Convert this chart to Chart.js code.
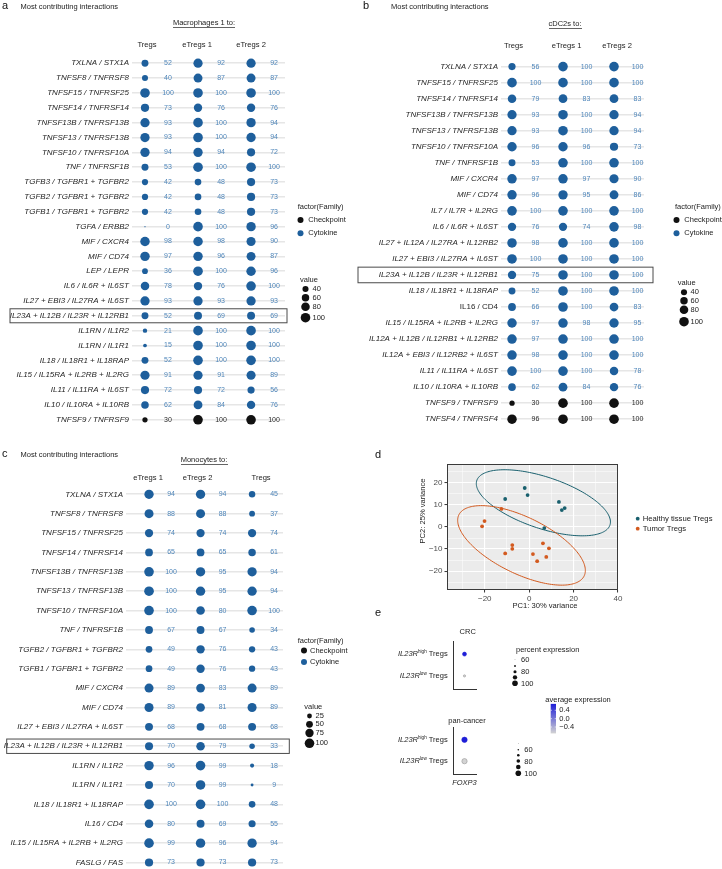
<!DOCTYPE html>
<html>
<head>
<meta charset="utf-8">
<title>Most contributing interactions</title>
<script src="https://cdn.jsdelivr.net/npm/chart.js@4.4.1/dist/chart.umd.min.js"></script>
<style>
  html, body { margin: 0; padding: 0; background: #fff; }
  body { position: relative; width: 722px; height: 869px; overflow: hidden; }
  canvas { position: absolute; }
</style>
</head>
<body>
<canvas id="chartA" width="361" height="435" style="left:0;top:0"></canvas>
<canvas id="chartB" width="370" height="435" style="left:352px;top:0"></canvas>
<canvas id="chartC" width="361" height="440" style="left:0;top:440px"></canvas>
<canvas id="chartD" width="361" height="175" style="left:361px;top:440px"></canvas>
<canvas id="chartE1" width="362" height="90" style="left:360px;top:605px"></canvas>
<canvas id="chartE2" width="362" height="100" style="left:360px;top:695px"></canvas>

<script>
// ---------- data ----------
const familyNames = ['Checkpoint', 'Cytokine'];
const highlightRow = 'IL23A + IL12B / IL23R + IL12RB1';
const panelTitle = 'Most contributing interactions';

// a: Macrophages 1 to
const macroRows = ['TXLNA / STX1A', 'TNFSF8 / TNFRSF8', 'TNFSF15 / TNFRSF25', 'TNFSF14 / TNFRSF14',
  'TNFSF13B / TNFRSF13B', 'TNFSF13 / TNFRSF13B', 'TNFSF10 / TNFRSF10A', 'TNF / TNFRSF1B',
  'TGFB3 / TGFBR1 + TGFBR2', 'TGFB2 / TGFBR1 + TGFBR2', 'TGFB1 / TGFBR1 + TGFBR2', 'TGFA / ERBB2',
  'MIF / CXCR4', 'MIF / CD74', 'LEP / LEPR', 'IL6 / IL6R + IL6ST', 'IL27 + EBI3 / IL27RA + IL6ST',
  'IL23A + IL12B / IL23R + IL12RB1', 'IL1RN / IL1R2', 'IL1RN / IL1R1', 'IL18 / IL18R1 + IL18RAP',
  'IL15 / IL15RA + IL2RB + IL2RG', 'IL11 / IL11RA + IL6ST', 'IL10 / IL10RA + IL10RB', 'TNFSF9 / TNFRSF9'];
const macroCols = ['Tregs', 'eTregs 1', 'eTregs 2'];
const macroTregs   = [52, 40, 100, 73, 93, 93, 94, 53, 42, 42, 42, 0, 98, 97, 36, 78, 93, 52, 21, 15, 52, 91, 72, 62, 30];
const macroETregs1 = [92, 87, 100, 76, 100, 100, 94, 100, 48, 48, 48, 100, 98, 96, 100, 76, 93, 69, 100, 100, 100, 91, 72, 84, 100];
const macroETregs2 = [92, 87, 100, 76, 94, 94, 72, 100, 73, 73, 73, 96, 90, 87, 96, 100, 93, 69, 100, 100, 100, 89, 56, 76, 100];
const macroCheckpoint = ['TNFSF9 / TNFRSF9'];
const macroUpright = [];
const macroSizeBreaks = [40, 60, 80, 100];

// b: cDC2s to
const cdcRows = ['TXLNA / STX1A', 'TNFSF15 / TNFRSF25', 'TNFSF14 / TNFRSF14', 'TNFSF13B / TNFRSF13B',
  'TNFSF13 / TNFRSF13B', 'TNFSF10 / TNFRSF10A', 'TNF / TNFRSF1B', 'MIF / CXCR4', 'MIF / CD74',
  'IL7 / IL7R + IL2RG', 'IL6 / IL6R + IL6ST', 'IL27 + IL12A / IL27RA + IL12RB2', 'IL27 + EBI3 / IL27RA + IL6ST',
  'IL23A + IL12B / IL23R + IL12RB1', 'IL18 / IL18R1 + IL18RAP', 'IL16 / CD4', 'IL15 / IL15RA + IL2RB + IL2RG',
  'IL12A + IL12B / IL12RB1 + IL12RB2', 'IL12A + EBI3 / IL12RB2 + IL6ST', 'IL11 / IL11RA + IL6ST',
  'IL10 / IL10RA + IL10RB', 'TNFSF9 / TNFRSF9', 'TNFSF4 / TNFRSF4'];
const cdcCols = ['Tregs', 'eTregs 1', 'eTregs 2'];
const cdcTregs   = [56, 100, 79, 93, 93, 96, 53, 97, 96, 100, 76, 98, 100, 75, 52, 66, 97, 97, 98, 100, 62, 30, 96];
const cdcETregs1 = [100, 100, 83, 100, 100, 96, 100, 97, 95, 100, 74, 100, 100, 100, 100, 100, 98, 100, 100, 100, 84, 100, 100];
const cdcETregs2 = [100, 100, 83, 94, 94, 73, 100, 90, 86, 100, 98, 100, 100, 100, 100, 83, 95, 100, 100, 78, 76, 100, 100];
const cdcCheckpoint = ['TNFSF9 / TNFRSF9', 'TNFSF4 / TNFRSF4'];
const cdcUpright = ['IL16 / CD4'];
const cdcSizeBreaks = [40, 60, 80, 100];

// c: Monocytes to
const monoRows = ['TXLNA / STX1A', 'TNFSF8 / TNFRSF8', 'TNFSF15 / TNFRSF25', 'TNFSF14 / TNFRSF14',
  'TNFSF13B / TNFRSF13B', 'TNFSF13 / TNFRSF13B', 'TNFSF10 / TNFRSF10A', 'TNF / TNFRSF1B',
  'TGFB2 / TGFBR1 + TGFBR2', 'TGFB1 / TGFBR1 + TGFBR2', 'MIF / CXCR4', 'MIF / CD74',
  'IL27 + EBI3 / IL27RA + IL6ST', 'IL23A + IL12B / IL23R + IL12RB1', 'IL1RN / IL1R2', 'IL1RN / IL1R1',
  'IL18 / IL18R1 + IL18RAP', 'IL16 / CD4', 'IL15 / IL15RA + IL2RB + IL2RG', 'FASLG / FAS'];
const monoCols = ['eTregs 1', 'eTregs 2', 'Tregs'];
const monoETregs1 = [94, 88, 74, 65, 100, 100, 100, 67, 49, 49, 89, 89, 68, 70, 96, 70, 100, 80, 99, 73];
const monoETregs2 = [94, 88, 74, 65, 95, 95, 80, 67, 76, 76, 83, 81, 68, 79, 99, 99, 100, 69, 96, 73];
const monoTregs   = [45, 37, 74, 61, 94, 94, 100, 34, 43, 43, 89, 89, 68, 33, 18, 9, 48, 55, 94, 73];
const monoCheckpoint = [];
const monoUpright = [];
const monoSizeBreaks = [25, 50, 75, 100];

// d: PCA
const pcaGroups = ['Healthy tissue Tregs', 'Tumor Tregs'];
const healthyPC1 = [-10.8, -2.0, -0.7, 13.4, 14.7, 16.0, 6.8];
const healthyPC2 = [12.7, 17.7, 14.5, 11.4, 7.7, 8.6, -0.5];
const tumorPC1 = [-12.5, -20.1, -21.2, -7.6, -7.6, -10.8, 6.2, 8.9, 1.7, 3.6, 7.7];
const tumorPC2 = [8.2, 2.7, 0.3, -8.2, -9.9, -12.0, -7.4, -9.7, -12.3, -15.5, -13.6];
// ellipse: centre x, centre y, half extent x, half extent y, tilt (correlation)
const healthyEllipse = [6.4, 11.0, 30.2, 15.0, -0.58];
const tumorEllipse = [-3.45, -8.35, 28.75, 18.05, -0.63];
const pcXTicks = [-30, -20, -10, 0, 10, 20, 30, 40];
const pcYTicks = [-25, -20, -15, -10, -5, 0, 5, 10, 15, 20, 25];
const pcAxisTitles = ['PC1: 30% variance', 'PC2: 25% variance'];

// e: FOXP3 dot plots
const exprGene = ['FOXP3'];
const exprGroups = ['high', 'low'];
const crcPct = [87, 73];
const crcAvg = [0.707, -0.707];
const panPct = [98, 97];
const panAvg = [0.707, -0.707];
const crcPctBreaks = [60, 70, 80, 90, 100];
const panPctBreaks = [50, 60, 70, 80, 90, 100];
const pctLabelled = [60, 80, 100];
const avgBreaks = [0.4, 0.0, -0.4];

// ---------- style ----------
const FONT = '"Liberation Sans", Arial, Helvetica, sans-serif';
const BLUE = '#1e5f9c', NUMBLUE = '#4f86ba', BLACK = '#111', INK = '#222';
const TEAL = '#19606e', ORANGE = '#d35a1f';

function sizeOf(v) { return Math.max(0.6, 4.8 * Math.sqrt(v / 100)); }

function text(ctx, str, x, y, size, align, extra) {
  ctx.font = (extra || '') + ' ' + size + 'px ' + FONT;
  ctx.textAlign = align || 'left';
  ctx.textBaseline = 'middle';
  ctx.fillText(str, x, y);
  return ctx.measureText(str).width;
}

function underlined(ctx, str, cx, y, size) {
  const w = text(ctx, str, cx, y, size, 'center');
  ctx.fillRect(Math.round(cx - w / 2), Math.round(y + size * 0.5), Math.round(w), 0.7);
}

function dotPlot(id, rows, cols, series, checkpoint, upright, sizeBreaks, L) {
  const familyOf = r => checkpoint.includes(r) ? 0 : 1;
  const ox = L.off[0], oy = L.off[1];
  const extras = {
    id: 'extras',
    afterDatasetsDraw(chart) {
      const ctx = chart.ctx, xs = chart.scales.x, ys = chart.scales.y;
      ctx.save();
      // panel letter, title, subtitle
      ctx.fillStyle = '#111';
      text(ctx, L.letter, L.letterPos[0] - ox, L.letterPos[1] - oy, 11);
      ctx.fillStyle = INK;
      text(ctx, panelTitle, L.titlePos[0] - ox, L.titlePos[1] - oy, 7.5);
      underlined(ctx, L.subtitle, L.subPos[0] - ox, L.subPos[1] - oy, 7.5);
      // values beside the dots
      ctx.font = '7px ' + FONT;
      ctx.textAlign = 'center';
      ctx.textBaseline = 'middle';
      chart.data.datasets.forEach((ds, j) => {
        chart.getDatasetMeta(j).data.forEach((el, i) => {
          ctx.fillStyle = familyOf(rows[i]) === 0 ? '#2a2a2a' : NUMBLUE;
          ctx.fillText(String(ds.values[i]), el.x + L.numDx, el.y);
        });
      });
      // column headers
      ctx.fillStyle = INK;
      cols.forEach((c, j) => text(ctx, c, xs.getPixelForValue(j) + L.headShift[j], L.headY - oy, 7.6, 'center'));
      // highlighted interaction
      const yb = ys.getPixelForValue(rows.indexOf(highlightRow));
      ctx.strokeStyle = '#4a4a4a';
      ctx.lineWidth = 1;
      ctx.strokeRect(L.box[0] - ox, yb - L.box[2], L.box[1] - L.box[0], 2 * L.box[2]);
      // legends
      const g = L.legend;
      ctx.fillStyle = INK;
      text(ctx, 'factor(Family)', g.fam[0] - ox, g.fam[1] - oy, 7.5);
      familyNames.forEach((name, k) => {
        const y = g.famRows[k] - oy;
        ctx.fillStyle = k === 0 ? BLACK : BLUE;
        ctx.beginPath(); ctx.arc(g.famDot - ox, y, 3, 0, 2 * Math.PI); ctx.fill();
        ctx.fillStyle = INK;
        text(ctx, name, g.famText - ox, y, 7.5);
      });
      text(ctx, 'value', g.val[0] - ox, g.val[1] - oy, 7.5);
      sizeBreaks.forEach((v, k) => {
        const y = g.valRows[k] - oy;
        ctx.fillStyle = BLACK;
        ctx.beginPath(); ctx.arc(g.valDot - ox, y, sizeOf(v), 0, 2 * Math.PI); ctx.fill();
        ctx.fillStyle = INK;
        text(ctx, String(v), g.valText - ox, y, 7.5);
      });
      ctx.restore();
    }
  };

  return new Chart(document.getElementById(id), {
    type: 'bubble',
    data: {
      datasets: series.map((vals, j) => ({
        label: cols[j],
        values: vals,
        data: vals.map((v, i) => ({ x: j, y: rows[i], r: sizeOf(v) })),
        backgroundColor: rows.map(r => familyOf(r) === 0 ? BLACK : BLUE),
        borderWidth: 0,
        hoverRadius: 0,
        clip: false
      }))
    },
    options: {
      responsive: false,
      animation: false,
      events: [],
      layout: { padding: { left: 0, top: L.pad[0], right: L.pad[1], bottom: L.pad[2] } },
      plugins: { legend: { display: false }, tooltip: { enabled: false } },
      scales: {
        x: { type: 'linear', min: L.xRange[0], max: L.xRange[1], display: false },
        y: {
          type: 'category',
          labels: rows,
          offset: true,
          afterFit: s => { s.width = L.yWidth; },
          grid: { offset: false, drawTicks: false, color: '#e6e6e6', lineWidth: 1.6 },
          border: { display: false },
          ticks: {
            autoSkip: false,
            padding: 3,
            color: '#262626',
            font: c => ({ family: FONT, size: 8, style: upright.includes(rows[c.index]) ? 'normal' : 'italic' })
          }
        }
      }
    },
    plugins: [extras]
  });
}

dotPlot('chartA', macroRows, macroCols, [macroTregs, macroETregs1, macroETregs2],
  macroCheckpoint, macroUpright, macroSizeBreaks, {
    off: [0, 0], yWidth: 132, pad: [55.8, 76, 5.8], xRange: [-0.245, 2.64],
    letter: 'a', letterPos: [2, 6], titlePos: [20.5, 6.5], subtitle: 'Macrophages 1 to:', subPos: [204, 23],
    headY: 44.5, headShift: [2, -1, 0], numDx: 23, box: [10, 287, 7],
    legend: { fam: [297.7, 206.7], famRows: [220, 233.3], famDot: 300.5, famText: 308.3,
              val: [300, 280], valRows: [289, 297.7, 306.7, 317.7], valDot: 305.5, valText: 312.5 }
  });

dotPlot('chartB', cdcRows, cdcCols, [cdcTregs, cdcETregs1, cdcETregs2],
  cdcCheckpoint, cdcUpright, cdcSizeBreaks, {
    off: [352, 0], yWidth: 149, pad: [58.6, 78, 5.9], xRange: [-0.216, 2.588],
    letter: 'b', letterPos: [363, 5.5], titlePos: [391, 6.5], subtitle: 'cDC2s to:', subPos: [565, 24],
    headY: 46, headShift: [1.5, 3.5, 3], numDx: 23.5, box: [358, 653, 7.8],
    legend: { fam: [675, 206.7], famRows: [220, 233.3], famDot: 676.5, famText: 684.3,
              val: [677.7, 282.7], valRows: [292.3, 300.7, 309.7, 321.7], valDot: 684, valText: 690.5 }
  });

dotPlot('chartC', monoRows, monoCols, [monoETregs1, monoETregs2, monoTregs],
  monoCheckpoint, monoUpright, monoSizeBreaks, {
    off: [0, 440], yWidth: 126, pad: [44.6, 78, 7.6], xRange: [-0.447, 2.6],
    letter: 'c', letterPos: [2, 453.5], titlePos: [20.5, 454.5], subtitle: 'Monocytes to:', subPos: [204, 460],
    headY: 477.5, headShift: [-1, -3, 9], numDx: 22, box: [6.7, 289.3, 7.2],
    legend: { fam: [297.7, 641], famRows: [650.5, 662], famDot: 304, famText: 310,
              val: [304.3, 706.7], valRows: [716, 724.3, 733, 743.3], valDot: 309.5, valText: 315.5 }
  });

// ---------- d: PCA ----------
function traceEllipse(ctx, xs, ys, e) {
  const [cx, cy, w, h, rho] = e;
  const s = Math.sqrt(1 - rho * rho);
  ctx.beginPath();
  for (let k = 0; k <= 180; k++) {
    const t = k / 180 * 2 * Math.PI;
    const px = xs.getPixelForValue(cx + w * Math.cos(t));
    const py = ys.getPixelForValue(cy + h * (rho * Math.cos(t) + s * Math.sin(t)));
    if (k === 0) ctx.moveTo(px, py); else ctx.lineTo(px, py);
  }
  ctx.closePath();
}

const pcaFrame = {
  id: 'pcaFrame',
  beforeDraw(chart) {
    const { ctx, chartArea: a } = chart;
    ctx.save();
    ctx.fillStyle = '#ebebeb';
    ctx.fillRect(a.left, a.top, a.width, a.height);
    ctx.restore();
  },
  beforeDatasetsDraw(chart) {
    const { ctx, scales } = chart;
    ctx.save();
    ctx.lineWidth = 1;
    [[healthyEllipse, TEAL], [tumorEllipse, ORANGE]].forEach(([e, col]) => {
      traceEllipse(ctx, scales.x, scales.y, e);
      ctx.strokeStyle = col;
      ctx.stroke();
    });
    ctx.restore();
  },
  afterDraw(chart) {
    const { ctx, chartArea: a } = chart;
    ctx.save();
    ctx.strokeStyle = '#3a3a3a';
    ctx.lineWidth = 1;
    ctx.strokeRect(Math.round(a.left) + 0.5, Math.round(a.top) + 0.5, Math.round(a.width) - 1, Math.round(a.height) - 1);
    ctx.fillStyle = '#111';
    text(ctx, 'd', 14, 15, 11);
    // axis titles
    ctx.fillStyle = INK;
    text(ctx, pcAxisTitles[0], 184, 165.5, 7.6, 'center');
    ctx.translate(61.5, 71);
    ctx.rotate(-Math.PI / 2);
    text(ctx, pcAxisTitles[1], 0, 0, 7.6, 'center');
    ctx.setTransform(1, 0, 0, 1, 0, 0);
    // legend
    [TEAL, ORANGE].forEach((col, k) => {
      const y = 78.7 + k * 10;
      ctx.fillStyle = col;
      ctx.beginPath(); ctx.arc(276.7, y, 1.9, 0, 2 * Math.PI); ctx.fill();
      ctx.fillStyle = INK;
      text(ctx, pcaGroups[k], 281.7, y, 7.7);
    });
    ctx.restore();
  }
};

const isMajor = (v, step) => Math.abs(v % step) < 1e-9;
const minus = v => String(v).replace('-', '\u2212');

new Chart(document.getElementById('chartD'), {
  type: 'scatter',
  data: {
    datasets: [
      { label: pcaGroups[0], data: healthyPC1.map((x, i) => ({ x, y: healthyPC2[i] })),
        backgroundColor: TEAL, pointRadius: 1.9, borderWidth: 0 },
      { label: pcaGroups[1], data: tumorPC1.map((x, i) => ({ x, y: tumorPC2[i] })),
        backgroundColor: ORANGE, pointRadius: 1.9, borderWidth: 0 }
    ]
  },
  options: {
    responsive: false,
    animation: false,
    events: [],
    layout: { padding: { left: 55, top: 24, right: 104, bottom: 0 } },
    plugins: { legend: { display: false }, tooltip: { enabled: false } },
    scales: {
      x: {
        type: 'linear', min: -37, max: 40,
        afterBuildTicks: s => { s.ticks = pcXTicks.map(v => ({ value: v })); },
        afterFit: s => { s.height = 25; },
        border: { display: false },
        grid: {
          color: '#ffffff',
          lineWidth: c => c.tick && isMajor(c.tick.value, 20) ? 1.1 : 0.5,
          tickColor: c => c.tick && isMajor(c.tick.value, 20) ? '#333' : 'rgba(0,0,0,0)',
          tickLength: 2.5, tickWidth: 1
        },
        ticks: {
          autoSkip: false, maxRotation: 0, padding: 1, color: '#4d4d4d',
          font: { family: FONT, size: 8 },
          callback: v => isMajor(v, 20) ? minus(v) : ''
        }
      },
      y: {
        type: 'linear', min: -28.6, max: 28.6,
        afterBuildTicks: s => { s.ticks = pcYTicks.map(v => ({ value: v })); },
        afterFit: s => { s.width = 31; },
        border: { display: false },
        grid: {
          color: '#ffffff',
          lineWidth: c => c.tick && isMajor(c.tick.value, 10) ? 1.1 : 0.5,
          tickColor: c => c.tick && isMajor(c.tick.value, 10) ? '#333' : 'rgba(0,0,0,0)',
          tickLength: 2.5, tickWidth: 1
        },
        ticks: {
          autoSkip: false, padding: 2, color: '#4d4d4d',
          font: { family: FONT, size: 8 },
          callback: v => isMajor(v, 10) ? minus(v) : ''
        }
      }
    }
  },
  plugins: [pcaFrame]
});

// ---------- e: FOXP3 ----------
const LOW_RGB = [211, 211, 211], HIGH_RGB = [30, 30, 215];
function avgColor(v) {
  const t = Math.min(1, Math.max(0, (v + 0.707) / 1.414));
  return 'rgb(' + LOW_RGB.map((c, k) => Math.round(c + (HIGH_RGB[k] - c) * t)).join(',') + ')';
}

function groupLabel(ctx, xRight, y, sup) {
  const fMain = 'italic 7.5px ' + FONT, fSup = '4.6px ' + FONT, fReg = '7.5px ' + FONT;
  ctx.font = fMain; const w1 = ctx.measureText('IL23R').width;
  ctx.font = fSup; const w2 = ctx.measureText(sup).width;
  ctx.font = fReg; const w3 = ctx.measureText(' Tregs').width;
  let x = xRight - (w1 + w2 + w3);
  ctx.textAlign = 'left';
  ctx.textBaseline = 'middle';
  ctx.font = fMain; ctx.fillText('IL23R', x, y); x += w1;
  ctx.font = fSup; ctx.fillText(sup, x, y - 2); x += w2;
  ctx.font = fReg; ctx.fillText(' Tregs', x, y);
}

function pctLegend(ctx, title, breaks, radius, p) {
  ctx.fillStyle = INK;
  if (title) text(ctx, title, p.title[0], p.title[1], 7.5);
  breaks.forEach((v, k) => {
    ctx.fillStyle = BLACK;
    ctx.beginPath(); ctx.arc(p.dotX, p.rows[k], radius(v), 0, 2 * Math.PI); ctx.fill();
    if (pctLabelled.includes(v)) {
      ctx.fillStyle = INK;
      text(ctx, String(v), p.textX, p.rows[k] + 0.6, 7.5);
    }
  });
}

function exprPlot(id, cohort, pct, avg, radius, L, drawLegends) {
  const extras = {
    id: 'exprExtras',
    afterDraw(chart) {
      const ctx = chart.ctx, ys = chart.scales.y;
      ctx.save();
      ctx.fillStyle = INK;
      exprGroups.forEach((g, i) => groupLabel(ctx, L.labelRight, ys.getPixelForValue(1 - i), g));
      text(ctx, cohort, L.title[0], L.title[1], 7.5, 'center');
      drawLegends(ctx);
      ctx.restore();
    }
  };
  return new Chart(document.getElementById(id), {
    type: 'bubble',
    data: {
      datasets: [{
        label: cohort,
        data: exprGroups.map((g, i) => ({ x: exprGene[0], y: 1 - i, r: radius(pct[i]) })),
        backgroundColor: avg.map(avgColor),
        borderColor: avg.map(v => v < 0 ? '#999999' : avgColor(v)),
        borderWidth: 0.6,
        hoverRadius: 0,
        clip: false
      }]
    },
    options: {
      responsive: false,
      animation: false,
      events: [],
      layout: { padding: { left: 0, top: L.pad[0], right: L.pad[1], bottom: L.pad[2] } },
      plugins: { legend: { display: false }, tooltip: { enabled: false } },
      scales: {
        x: {
          type: 'category', labels: exprGene, offset: true,
          afterFit: s => { s.height = L.xHeight; },
          grid: { display: false, drawTicks: false },
          border: { display: true, color: '#333', width: 1 },
          ticks: { display: L.showGene, padding: 4, color: INK,
                   font: { family: FONT, size: 7.5, style: 'italic' } }
        },
        y: {
          type: 'linear', min: -0.6, max: 1.6,
          afterFit: s => { s.width = 93; },
          grid: { display: false, drawTicks: false },
          border: { display: true, color: '#333', width: 1 },
          ticks: { display: false }
        }
      }
    },
    plugins: [extras]
  });
}

const crcRadius = p => 0.3 + (p - 60) / 40 * 2.5;
const panRadius = p => 0.3 + (p - 50) / 50 * 2.5;

exprPlot('chartE1', 'CRC', crcPct, crcAvg, crcRadius,
  { pad: [36, 246, 6], xHeight: 0, showGene: false, labelRight: 87.7, title: [107.7, 27] },
  ctx => {
    ctx.fillStyle = '#111';
    text(ctx, 'e', 15, 7.5, 11);
    pctLegend(ctx, 'percent expression', crcPctBreaks, crcRadius,
      { title: [156, 45], dotX: 155, textX: 161, rows: [54.3, 61, 66.7, 72.3, 78.3] });
  });

exprPlot('chartE2', 'pan-cancer', panPct, panAvg, panRadius,
  { pad: [32, 246, 0], xHeight: 21, showGene: true, labelRight: 87.7, title: [107, 26] },
  ctx => {
    // average expression colour bar
    const barY = v => 23.65 - v * 20.9;
    ctx.fillStyle = INK;
    text(ctx, 'average expression', 185.3, 5, 7.5);
    const top = barY(0.707), bot = barY(-0.707);
    const grad = ctx.createLinearGradient(0, top, 0, bot);
    grad.addColorStop(0, avgColor(0.707));
    grad.addColorStop(1, avgColor(-0.707));
    ctx.fillStyle = grad;
    ctx.fillRect(190.7, top, 5.3, bot - top);
    ctx.strokeStyle = '#fff';
    ctx.lineWidth = 0.6;
    avgBreaks.forEach(v => {
      const y = barY(v);
      ctx.beginPath(); ctx.moveTo(190.7, y); ctx.lineTo(192, y); ctx.moveTo(194.7, y); ctx.lineTo(196, y); ctx.stroke();
      ctx.fillStyle = INK;
      text(ctx, v === 0 ? '0.0' : minus(v.toFixed(1)), 199.3, y, 7.5);
    });
    pctLegend(ctx, null, panPctBreaks, panRadius,
      { dotX: 158.3, textX: 164.3, rows: [48.3, 54.7, 60.3, 66, 72, 78.3] });
  });
</script>
</body>
</html>
